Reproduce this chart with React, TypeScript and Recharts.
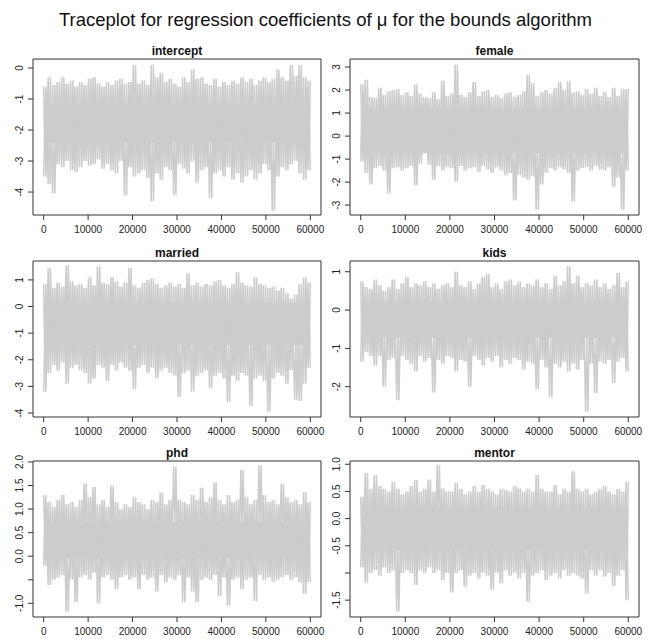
import { ComposedChart, Area, Line, XAxis, YAxis, ReferenceArea } from "recharts"

// MCMC draws, summarised per block of 1000 iterations: upper and lower envelope,
// plus the dense central band (where the trace looks solid) for each coefficient
const nIter = 60000
const iterTicks = [0, 10000, 20000, 30000, 40000, 50000, 60000]

const interceptHi = [
  -0.6, -0.3, -0.55, -0.45, -0.3, -0.5, -0.4, -0.6, -0.45, -0.55,
  -0.35, -0.3, -0.5, -0.6, -0.45, -0.55, -0.4, -0.35, -0.5, -0.45,
  0.1, -0.5, -0.4, -0.55, 0.1, -0.3, -0.15, -0.45, -0.35, -0.5,
  -0.6, -0.3, -0.45, -0.05, -0.35, -0.3, -0.5, -0.55, -0.35, -0.6,
  -0.45, -0.55, -0.4, -0.5, -0.3, -0.45, -0.35, -0.55, -0.4, -0.3,
  -0.45, -0.35, -0.05, -0.3, -0.4, 0.1, -0.25, 0.1, -0.3, -0.4,
]
const interceptLo = [
  -3.5, -3.75, -4.05, -3.1, -3.2, -3.0, -3.3, -3.35, -3.2, -3.0,
  -3.15, -3.1, -2.95, -3.25, -3.1, -3.3, -3.4, -3.0, -4.1, -3.2,
  -3.5, -3.4, -3.3, -3.55, -4.3, -3.4, -3.6, -3.2, -3.3, -4.1,
  -3.1, -3.25, -3.4, -3.0, -3.7, -3.3, -3.2, -4.2, -3.4, -3.3,
  -3.5, -3.2, -3.6, -3.4, -3.7, -3.5, -3.3, -3.6, -3.4, -3.1,
  -3.3, -4.6, -3.5, -3.2, -3.3, -3.1, -3.0, -3.4, -3.6, -3.3,
]
const interceptCore = [-2.4, -1.15]

const femaleHi = [
  2.25, 2.45, 1.7, 1.65, 2.1, 1.8, 1.95, 2.0, 2.05, 1.8,
  1.9, 1.75, 2.25, 1.85, 1.7, 1.65, 1.9, 1.6, 2.4, 1.75,
  1.85, 3.1, 1.8, 1.7, 1.9, 2.35, 1.75, 1.95, 2.0, 1.7,
  1.8, 1.65, 1.85, 1.9, 1.7, 1.8, 1.95, 2.65, 2.3, 1.75,
  1.9, 2.0, 1.85, 2.1, 2.35, 2.0, 2.4, 1.9, 1.95, 1.8,
  2.05, 1.85, 2.1, 1.75, 1.9, 1.7, 2.1, 1.75, 2.05, 2.05,
]
const femaleLo = [
  -1.1, -1.6, -2.1, -1.4, -1.3, -1.5, -2.5, -1.4, -1.35, -1.5,
  -1.4, -1.3, -2.15, -1.2, -0.3, -1.25, -1.9, -1.3, -1.5, -1.35,
  -1.4, -2.0, -1.3, -1.5, -1.4, -1.35, -1.55, -1.3, -1.45, -1.6,
  -1.35, -1.5, -1.7, -1.6, -2.8, -1.7, -1.8, -1.9, -1.75, -3.2,
  -2.1, -1.6, -1.4, -1.5, -1.35, -1.45, -1.6, -2.85, -1.5, -1.4,
  -1.35, -1.5, -1.3, -1.45, -1.5, -1.35, -2.2, -1.8, -3.2, -1.5,
]
const femaleCore = [-0.75, 1.2]

const marriedHi = [
  0.85, 1.45, 0.7, 0.9, 0.75, 1.55, 0.95, 0.8, 0.85, 0.7,
  1.1, 0.8, 1.5, 0.9, 0.85, 1.1, 0.95, 0.75, 0.9, 1.45,
  0.8, 0.7, 0.9, 1.0, 1.05, 0.85, 0.7, 0.8, 0.9, 0.75,
  0.85, 0.7, 1.25, 0.8, 0.9, 0.75, 0.85, 0.8, 0.95, 1.0,
  0.8, 0.7, 0.85, 1.3, 0.9, 0.8, 0.75, 1.1, 0.85, 0.8,
  0.7, 0.75, 0.6, 0.7, 0.5, 0.3, 0.45, 0.85, 1.1, 0.9,
]
const marriedLo = [
  -3.2, -2.5, -2.2, -2.4, -2.1, -2.9, -2.3, -2.2, -2.4, -2.5,
  -2.9, -2.7, -2.2, -2.3, -2.8, -2.2, -2.4, -2.1, -2.3, -2.4,
  -3.1, -2.3, -2.2, -2.5, -2.3, -2.7, -2.4, -2.3, -2.5, -2.6,
  -3.4, -2.5, -2.4, -3.2, -2.6, -2.5, -2.4, -3.05, -2.6, -2.5,
  -2.7, -3.6, -2.6, -2.8, -2.5, -2.6, -3.75, -2.7, -2.6, -2.8,
  -3.95, -2.7, -2.5, -2.6, -2.9, -2.4, -3.5, -3.55, -2.9, -2.3,
]
const marriedCore = [-1.45, 0.15]

const kidsHi = [
  0.75, 0.6, 0.55, 0.8, 0.65, 0.5, 0.6, 0.8, 0.55, 0.7,
  0.87, 0.6, 0.7, 0.65, 0.75, 0.6, 0.7, 0.55, 0.65, 0.7,
  0.6, 1.0, 0.65, 0.6, 0.75, 0.55, 0.7, 0.87, 0.95, 0.6,
  0.7, 0.55, 0.75, 0.8, 0.65, 0.75, 0.6, 0.7, 0.65, 0.8,
  0.6, 0.7, 0.55, 0.9, 0.65, 0.75, 1.15, 0.7, 0.9, 0.6,
  0.7, 0.65, 0.8, 0.6, 0.7, 0.55, 0.65, 0.97, 0.6, 0.75,
]
const kidsLo = [
  -1.35, -1.1, -1.2, -1.45, -1.2, -2.0, -1.3, -1.25, -2.35, -1.2,
  -1.3, -1.4, -1.6, -1.2, -1.35, -1.25, -2.15, -1.3, -1.4, -1.2,
  -1.25, -1.6, -1.3, -1.35, -2.0, -1.2, -1.3, -1.45, -1.25, -1.35,
  -1.2, -1.5, -1.3, -1.4, -1.25, -1.3, -1.55, -1.35, -1.4, -2.07,
  -1.3, -1.5, -2.28, -1.4, -1.5, -1.35, -1.6, -1.4, -1.55, -1.3,
  -2.65, -1.4, -2.17, -1.35, -1.4, -1.3, -1.9, -1.35, -1.25, -1.6,
]
const kidsCore = [-0.72, 0.22]

const phdHi = [
  1.3, 1.15, 1.05, 1.2, 1.3, 1.1, 1.15, 1.05, 1.2, 1.55,
  1.25, 1.47, 1.1, 1.2, 1.05, 1.5, 1.15, 1.0, 1.1, 1.05,
  1.25, 1.15, 1.1, 1.0, 1.2, 1.15, 1.35, 1.1, 1.2, 1.91,
  1.2, 1.15, 1.1, 1.3, 1.2, 1.45, 1.15, 1.25, 1.57, 1.2,
  1.1, 1.3, 1.15, 1.2, 1.83, 1.25, 1.1, 1.2, 1.93, 1.3,
  1.15, 1.2, 1.1, 1.54, 1.25, 1.15, 1.2, 1.1, 1.36, 1.15,
]
const phdLo = [
  -0.2, -0.61, -0.5, -0.45, -0.4, -1.18, -0.5, -0.97, -0.45, -0.4,
  -0.5, -0.35, -1.0, -0.45, -0.4, -0.5, -0.7, -0.45, -0.4, -0.5,
  -0.45, -0.7, -0.4, -0.5, -0.45, -0.75, -0.4, -0.55, -0.45, -0.5,
  -0.4, -0.98, -0.45, -0.75, -0.97, -0.5, -0.45, -0.5, -0.4, -0.85,
  -0.45, -1.05, -0.5, -0.45, -0.7, -0.5, -0.45, -0.95, -0.4, -0.5,
  -0.45, -0.55, -0.5, -0.45, -0.4, -0.5, -0.45, -0.55, -0.8, -0.55,
]
const phdCore = [-0.05, 0.72]

const mentorHi = [
  0.4, 0.84, 0.55, 0.8, 0.6, 0.55, 0.5, 0.68, 0.55, 0.45,
  0.5, 0.6, 0.71, 0.5, 0.55, 0.72, 0.5, 0.99, 0.55, 0.5,
  0.5, 0.66, 0.55, 0.45, 0.5, 0.6, 0.5, 0.62, 0.55, 0.5,
  0.45, 0.55, 0.53, 0.5, 0.6, 0.56, 0.5, 0.55, 0.5, 0.8,
  0.55, 0.5, 0.5, 0.62, 0.45, 0.55, 0.5, 0.87, 0.55, 0.5,
  0.55, 0.45, 0.5, 0.55, 0.6, 0.5, 0.45, 0.55, 0.5, 0.68,
]
const mentorLo = [
  -0.9, -1.18, -1.0, -0.95, -1.05, -0.9, -1.0, -0.95, -1.71, -1.0,
  -0.95, -1.0, -1.22, -0.95, -1.0, -0.9, -1.0, -0.95, -1.13, -1.0,
  -1.36, -1.0, -0.95, -1.25, -1.05, -1.0, -1.1, -1.0, -1.05, -1.31,
  -1.0, -1.19, -0.95, -1.05, -1.0, -1.1, -1.0, -1.53, -1.05, -1.0,
  -0.95, -1.13, -1.05, -1.0, -1.1, -0.95, -1.05, -1.0, -1.05, -1.1,
  -1.38, -0.95, -1.05, -0.95, -1.07, -1.0, -1.24, -1.05, -0.95, -1.5,
]
const mentorCore = [-0.58, 0.2]

// axis ticks and labels (R drops the labels that would overlap)
const interceptTicks = [0, -1, -2, -3, -4]
const femaleTicks = [3, 2, 1, 0, -1, -2, -3]
const marriedTicks = [1, 0, -1, -2, -3, -4]
const kidsTicks = [1, 0, -1, -2]
const phdTicks = [2, 1.5, 1, 0.5, 0, -0.5, -1]
const phdTickLabels = ["2.0", "1.5", "1.0", "0.5", "0.0", "", "-1.0"]
const mentorTicks = [1, 0.5, 0, -0.5, -1, -1.5]
const mentorTickLabels = ["1.0", "0.5", "0.0", "-0.5", "", "-1.5"]

const FONT = '"Liberation Sans", Arial, Helvetica, sans-serif'
const BOX_H = 156
const Y_AXIS_W = 33
const TOP_PAD = 20
const X_DOMAIN: [number, number] = [-2400, 62400]
const TRACE = "#cccccc"

type PanelProps = {
  title: string
  hi: number[]
  lo: number[]
  core: number[]
  yTicks: number[]
  yLabels?: string[]
  yDomain: [number, number]
  left: number
  top: number
  width: number
}

function TracePanel({ title, hi, lo, core, yTicks, yLabels, yDomain, left, top, width }: PanelProps) {
  // two interleaved zigzags between the block maxima and minima give the spiky fringe,
  // the solid area underneath is the dense middle of the chain
  const n = hi.length * 2
  const data: { iter: number; a: number; b: number; core: number[] }[] = []
  hi.forEach((h, i) => {
    data.push({ iter: (2 * i * nIter) / (n - 1), a: h, b: lo[i], core })
    data.push({ iter: ((2 * i + 1) * nIter) / (n - 1), a: lo[i], b: h, core })
  })

  const label = (v: number) => {
    if (!yLabels) return String(v)
    const idx = yTicks.indexOf(v)
    return idx >= 0 ? yLabels[idx] : ""
  }

  return (
    <div style={{ position: "absolute", left: left - Y_AXIS_W, top: top - TOP_PAD }}>
      <div
        style={{
          position: "absolute", left: Y_AXIS_W, width, top: 5, lineHeight: "14px",
          textAlign: "center", fontWeight: "bold", fontSize: 12, color: "#111", fontFamily: FONT,
        }}
      >
        {title}
      </div>
      <ComposedChart
        width={Y_AXIS_W + width + 4}
        height={TOP_PAD + BOX_H + 30}
        data={data}
        margin={{ top: TOP_PAD, right: 4, bottom: 0, left: 0 }}
      >
        <XAxis
          dataKey="iter" type="number" domain={X_DOMAIN} ticks={iterTicks} interval={0}
          allowDataOverflow axisLine={false} stroke="#333" tickSize={5} tickMargin={2} height={30}
          tick={(p: any) => (
            <text x={p.x} y={p.y} dy={11} textAnchor="middle" fontSize={10} fill="#222" fontFamily={FONT}>
              {p.payload.value}
            </text>
          )}
        />
        <YAxis
          type="number" domain={yDomain} ticks={yTicks} interval={0} allowDataOverflow
          axisLine={false} stroke="#333" tickSize={5} tickMargin={2} width={Y_AXIS_W}
          tick={(p: any) => (
            <g transform={`translate(${p.x - 7},${p.y}) rotate(-90)`}>
              <text x={0} y={0} dy="0.36em" textAnchor="middle" fontSize={10} fill="#222" fontFamily={FONT}>
                {label(p.payload.value)}
              </text>
            </g>
          )}
        />
        <Area dataKey="core" type="linear" stroke="none" fill={TRACE} fillOpacity={1}
          dot={false} activeDot={false} isAnimationActive={false} />
        <Line dataKey="a" type="linear" stroke={TRACE} strokeWidth={1.5}
          dot={false} activeDot={false} isAnimationActive={false} />
        <Line dataKey="b" type="linear" stroke={TRACE} strokeWidth={1.5}
          dot={false} activeDot={false} isAnimationActive={false} />
        <ReferenceArea
          x1={X_DOMAIN[0]} x2={X_DOMAIN[1]} y1={yDomain[0]} y2={yDomain[1]}
          fill="none" stroke="#333" strokeWidth={1} fillOpacity={0}
        />
      </ComposedChart>
    </div>
  )
}

export default function App() {
  const colLeft = [33, 350]
  const colWidth = [288, 289]
  const rowTop = [59, 261, 461]
  return (
    <div style={{ position: "absolute", left: 0, top: 0, width: 651, height: 639, background: "#fff", fontFamily: FONT }}>
      <div
        style={{
          position: "absolute", left: 0, top: 9, width: 651, lineHeight: "22px",
          textAlign: "center", fontSize: 18.5, color: "#111",
        }}
      >
        Traceplot for regression coefficients of μ for the bounds algorithm
      </div>
      <TracePanel title="intercept" hi={interceptHi} lo={interceptLo} core={interceptCore} yTicks={interceptTicks}
        yDomain={[-4.74, 0.29]} left={colLeft[0]} top={rowTop[0]} width={colWidth[0]} />
      <TracePanel title="female" hi={femaleHi} lo={femaleLo} core={femaleCore} yTicks={femaleTicks}
        yDomain={[-3.43, 3.35]} left={colLeft[1]} top={rowTop[0]} width={colWidth[1]} />
      <TracePanel title="married" hi={marriedHi} lo={marriedLo} core={marriedCore} yTicks={marriedTicks}
        yDomain={[-4.15, 1.71]} left={colLeft[0]} top={rowTop[1]} width={colWidth[0]} />
      <TracePanel title="kids" hi={kidsHi} lo={kidsLo} core={kidsCore} yTicks={kidsTicks}
        yDomain={[-2.79, 1.28]} left={colLeft[1]} top={rowTop[1]} width={colWidth[1]} />
      <TracePanel title="phd" hi={phdHi} lo={phdLo} core={phdCore} yTicks={phdTicks} yLabels={phdTickLabels}
        yDomain={[-1.29, 2.02]} left={colLeft[0]} top={rowTop[2]} width={colWidth[0]} />
      <TracePanel title="mentor" hi={mentorHi} lo={mentorLo} core={mentorCore} yTicks={mentorTicks} yLabels={mentorTickLabels}
        yDomain={[-1.81, 1.06]} left={colLeft[1]} top={rowTop[2]} width={colWidth[1]} />
    </div>
  )
}
